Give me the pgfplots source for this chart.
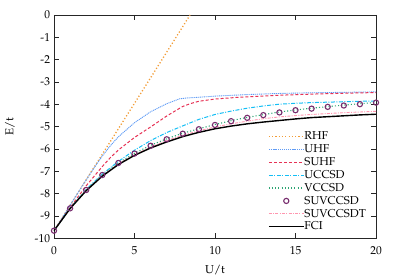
\documentclass[border=0pt]{standalone}
\usepackage[T1]{fontenc}
\usepackage{mathpazo}
\usepackage{pgfplots}
\pgfplotsset{compat=1.18}
\pgfplotsset{markleg/.style={legend image code/.code={\draw[##1] plot coordinates {(17.5bp,0bp)};}}}
\definecolor{cRHF}{RGB}{242,157,56}
\definecolor{cUHF}{RGB}{95,155,245}
\definecolor{cSUHF}{RGB}{230,50,85}
\definecolor{cUCC}{RGB}{20,190,245}
\definecolor{cVCC}{RGB}{45,165,115}
\definecolor{cSUV}{RGB}{120,45,110}
\definecolor{cSUVT}{RGB}{255,150,175}
\begin{document}
\fontsize{11.5}{13}\selectfont
\begin{tikzpicture}
\begin{axis}[
  scale only axis, width=322bp, height=223.5bp,
  xmin=0, xmax=20, ymin=-10, ymax=0,
  xtick={0,5,10,15,20}, ytick={-10,-9,-8,-7,-6,-5,-4,-3,-2,-1,0},
  /pgf/number format/assume math mode=true,
  major tick length=5bp, tick align=inside,
  axis line style={black!85, line width=0.8bp},
  tick style={black!85, line width=0.8bp},
  xticklabel style={yshift=-4bp},
  xlabel={U/t}, ylabel={E/t},
  xlabel style={at={(axis description cs:0.5,0)}, anchor=center, yshift=-32bp},
  ylabel style={at={(axis description cs:0,0.5)}, anchor=center, yshift=44bp},
  legend style={draw=none, fill=none, at={(rel axis cs:0.655,0.49)}, anchor=north west,
    legend cell align=left, row sep=2.4bp,
    nodes={inner sep=0pt, text height=8.5bp, text depth=2bp}},
  legend image code/.code={\draw[#1] (0bp,0bp) -- (35bp,0bp);},
  every axis legend/.append style={/tikz/every even column/.append style={column sep=8bp}},
]
\addplot[color=cRHF, line width=1.3bp, dash pattern=on 1.2bp off 2.1bp] coordinates {(0,-9.65) (2,-7.37) (4,-5.09) (6,-2.81) (8.45,0)};
\addlegendentry{RHF}
\addplot[color=cUHF, line width=0.9bp, dash pattern=on 1.1bp off 0.8bp] coordinates {
(0,-9.65) (1,-8.51) (2,-7.38) (2.5,-6.83) (3,-6.31) (3.5,-5.85) (4,-5.45) (5,-4.82) (6,-4.33) (7,-3.97) (7.8,-3.75) (8.3,-3.71) (9,-3.68) (10,-3.63) (12,-3.56) (14,-3.51) (16,-3.48) (18,-3.46) (20,-3.44)};
\addlegendentry{UHF}
\addplot[color=cSUHF, line width=1bp, dash pattern=on 3bp off 2bp] coordinates {
(0,-9.65) (1,-8.62) (2,-7.64) (3,-6.78) (3.5,-6.38) (4,-6.04) (5,-5.48) (6,-5.01) (7,-4.52) (8,-4.09) (8.5,-3.96) (9,-3.86) (10,-3.76) (11.5,-3.68) (14,-3.59) (16,-3.54) (18,-3.50) (20,-3.47)};
\addlegendentry{SUHF}
\addplot[color=cUCC, line width=1bp, dash pattern=on 4bp off 1.5bp on 1bp off 1.5bp] coordinates {
(0,-9.65) (1,-8.64) (2,-7.80) (3,-7.12) (4,-6.55) (5,-6.05) (6,-5.62) (7,-5.26) (8,-4.96) (9,-4.67) (10,-4.45) (11,-4.30) (12,-4.17) (13,-4.07) (14,-3.99) (15,-3.95) (16,-3.92) (17,-3.90) (18,-3.88) (19,-3.86) (20,-3.85)};
\addlegendentry{UCCSD}
\addplot[color=cVCC, line width=1.1bp, dash pattern=on 1.1bp off 2.1bp] coordinates {
(0,-9.65) (1,-8.65) (2,-7.83) (3,-7.16) (4,-6.62) (5,-6.19) (6,-5.83) (7,-5.54) (8,-5.29) (9,-5.09) (10,-4.90) (11,-4.73) (12,-4.58) (13,-4.46) (14,-4.34) (15,-4.25) (16,-4.17) (17,-4.10) (18,-4.03) (19,-3.97) (20,-3.91)};
\addlegendentry{VCCSD}
\addplot[color=cSUV, only marks, mark=o, mark size=2.6bp, line width=1.1bp, markleg] coordinates {
(0,-9.65) (1,-8.65) (2,-7.83) (3,-7.16) (4,-6.62) (5,-6.20) (6,-5.85) (7,-5.56) (8,-5.31) (9,-5.11) (10,-4.92) (11,-4.75) (12,-4.60) (13,-4.48) (14,-4.36) (15,-4.26) (16,-4.19) (17,-4.11) (18,-4.05) (19,-3.99) (20,-3.92)};
\addlegendentry{SUVCCSD}
\addplot[color=cSUVT, line width=0.9bp, dash pattern=on 3bp off 1.3bp on 1bp off 1.3bp] coordinates {
(0,-9.65) (1,-8.65) (2,-7.84) (3,-7.19) (4,-6.66) (5,-6.25) (6,-5.91) (7,-5.62) (8,-5.38) (9,-5.18) (10,-5.01) (11,-4.87) (12,-4.75) (13,-4.64) (14,-4.56) (15,-4.50) (16,-4.45) (17,-4.41) (18,-4.37) (19,-4.34) (20,-4.31)};
\addlegendentry{SUVCCSDT}
\addplot[color=black, line width=1.4bp] coordinates {
(0,-9.65) (1,-8.66) (2,-7.86) (3,-7.21) (4,-6.69) (5,-6.28) (6,-5.95) (7,-5.68) (8,-5.44) (9,-5.25) (10,-5.09) (11,-4.97) (12,-4.87) (13,-4.79) (14,-4.72) (15,-4.65) (16,-4.59) (17,-4.55) (18,-4.51) (19,-4.47) (20,-4.44)};
\addlegendentry{FCI}
\end{axis}
\path ([shift={(-54bp,-41bp)}]current axis.south west) rectangle ([shift={(23bp,15bp)}]current axis.north east);
\end{tikzpicture}
\end{document}
